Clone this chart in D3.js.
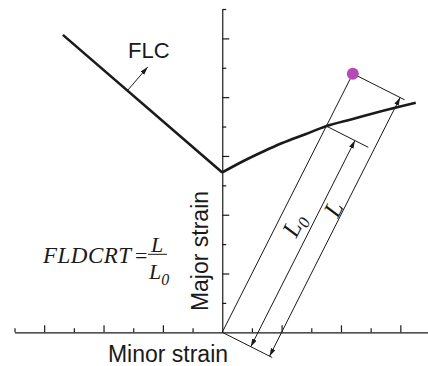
<!DOCTYPE html>
<html>
<head>
<meta charset="utf-8">
<script src="https://cdn.jsdelivr.net/npm/d3@7"></script>
<style>
  html, body { margin: 0; padding: 0; background: #fff; }
  svg { display: block; }
</style>
</head>
<body>
<svg id="chart" width="428" height="366"></svg>
<script>
// Forming limit curve (FLC), left and right branches, in strain units
const flcLeftMinor = [-0.537, 0];
const flcLeftMajor = [1.012, 0.544];
const flcRightMinor = [0, 0.07, 0.14, 0.2, 0.28, 0.352, 0.44, 0.52, 0.652];
const flcRightMajor = [0.544, 0.582, 0.616, 0.643, 0.674, 0.702, 0.726, 0.748, 0.781];

// Strain state of the element being assessed
const pointMinor = [0.44];
const pointMajor = [0.88];

// Axis ticks
const xMajorTicks = [-0.6, -0.4, -0.2, 0.2, 0.4, 0.6];
const xMinorTicks = [-0.7, -0.5, -0.3, -0.1, 0.1, 0.3, 0.5];
const yMajorTicks = [0.2, 0.4, 0.6, 0.8, 1.0];
const yMinorTicks = [0.1, 0.3, 0.5, 0.7, 0.9, 1.1];

const xLabel = "Minor strain";
const yLabel = "Major strain";
const flcLabel = "FLC";

const svg = d3.select("#chart");
const x = d3.scaleLinear().domain([-0.7, 0.7]).range([14.5, 430]);
const y = d3.scaleLinear().domain([0, 1.1]).range([332.3, 9]);

const ink = "#1a1a1a";

// arrowhead marker
svg.append("defs").append("marker")
  .attr("id", "arr")
  .attr("viewBox", "0 -3 8 6")
  .attr("refX", 8).attr("refY", 0)
  .attr("markerWidth", 8).attr("markerHeight", 6)
  .attr("markerUnits", "userSpaceOnUse")
  .attr("orient", "auto-start-reverse")
  .append("path").attr("d", "M0,-2.4L8,0L0,2.4Z").attr("fill", ink);

// axes: ticks point inward, long ticks on even tenths
function xAxis(vals, len) {
  return d3.axisBottom(x).tickValues(vals).tickSize(-len).tickSizeOuter(0).tickFormat("");
}
function yAxis(vals, len) {
  return d3.axisLeft(y).tickValues(vals).tickSize(-len).tickSizeOuter(0).tickFormat("");
}
const gx1 = svg.append("g").attr("transform", `translate(0,${y(0)})`).call(xAxis(xMajorTicks, 7));
const gx2 = svg.append("g").attr("transform", `translate(0,${y(0)})`).call(xAxis(xMinorTicks, 4));
const gy1 = svg.append("g").attr("transform", `translate(${x(0)},0)`).call(yAxis(yMajorTicks, 7));
const gy2 = svg.append("g").attr("transform", `translate(${x(0)},0)`).call(yAxis(yMinorTicks, 4));
[gx1, gx2, gy1, gy2].forEach(g => {
  g.selectAll("path, line").attr("stroke", ink).attr("stroke-width", 1.2);
});
gx2.select(".domain").remove();
gy2.select(".domain").remove();

// FLC curve
const line = d3.line().x(d => x(d[0])).y(d => y(d[1]));
const leftPts = flcLeftMinor.map((v, i) => [v, flcLeftMajor[i]]);
const rightPts = flcRightMinor.map((v, i) => [v, flcRightMajor[i]]);
svg.append("path").attr("d", line(leftPts))
  .attr("fill", "none").attr("stroke", ink).attr("stroke-width", 2.6);
svg.append("path").attr("d", line.curve(d3.curveMonotoneX)(rightPts))
  .attr("fill", "none").attr("stroke", ink).attr("stroke-width", 2.6);
line.curve(d3.curveLinear);

// where the proportional strain path crosses the FLC
const ratio = pointMajor[0] / pointMinor[0];
let cross = rightPts[rightPts.length - 1];
for (let i = 0; i < rightPts.length - 1; i++) {
  const a = rightPts[i], b = rightPts[i + 1];
  const fa = a[1] - ratio * a[0], fb = b[1] - ratio * b[0];
  if (fa >= 0 && fb < 0) {
    const t = fa / (fa - fb);
    cross = [a[0] + t * (b[0] - a[0]), a[1] + t * (b[1] - a[1])];
    break;
  }
}

// construction geometry in screen space
const O = [x(0), y(0)];
const P = [x(pointMinor[0]), y(pointMajor[0])];
const I = [x(cross[0]), y(cross[1])];
const len = Math.hypot(P[0] - O[0], P[1] - O[1]);
const u = [(P[0] - O[0]) / len, (P[1] - O[1]) / len];
const n = [-u[1], u[0]];
const off = (p, d) => [p[0] + n[0] * d, p[1] + n[1] * d];
const seg = (a, b) => svg.append("line")
  .attr("x1", a[0]).attr("y1", a[1]).attr("x2", b[0]).attr("y2", b[1])
  .attr("stroke", ink).attr("stroke-width", 1);

seg(O, P);
seg(O, off(O, 56));
seg(I, off(I, 47));
seg(P, off(P, 58));
seg(off(O, 32), off(I, 32)).attr("marker-start", "url(#arr)").attr("marker-end", "url(#arr)");
seg(off(O, 53), off(P, 53)).attr("marker-start", "url(#arr)").attr("marker-end", "url(#arr)");

// length labels along the dimension lines
const ang = Math.atan2(u[1], u[0]) * 180 / Math.PI;
function dimLabel(along, perp, main, sub) {
  const p = [O[0] + u[0] * along + n[0] * perp, O[1] + u[1] * along + n[1] * perp];
  const t = svg.append("text")
    .attr("transform", `translate(${p[0]},${p[1]}) rotate(${ang})`)
    .attr("text-anchor", "middle")
    .attr("font-family", "'Liberation Serif', 'Times New Roman', serif")
    .attr("font-style", "italic").attr("font-size", 25).attr("fill", ink);
  t.append("tspan").text(main);
  if (sub) t.append("tspan").attr("font-size", 17).attr("dy", 5).text(sub);
}
dimLabel(128, 24, "L", "0");
dimLabel(160, 52, "L", null);

// strain point
svg.append("circle").attr("cx", P[0]).attr("cy", P[1]).attr("r", 6)
  .attr("fill", "#b54cb5");

// FLC label with pointer normal to the left branch
const a0 = [x(flcLeftMinor[0]), y(flcLeftMajor[0])];
const a1 = [x(flcLeftMinor[1]), y(flcLeftMajor[1])];
const ll = Math.hypot(a1[0] - a0[0], a1[1] - a0[1]);
const lu = [(a1[0] - a0[0]) / ll, (a1[1] - a0[1]) / ll];
const ln = [lu[1], -lu[0]];
const base = [a0[0] + lu[0] * ll * 0.405, a0[1] + lu[1] * ll * 0.405];
svg.append("line")
  .attr("x1", base[0]).attr("y1", base[1])
  .attr("x2", base[0] + ln[0] * 31).attr("y2", base[1] + ln[1] * 31)
  .attr("stroke", ink).attr("stroke-width", 1).attr("marker-end", "url(#arr)");
svg.append("text").attr("x", 128).attr("y", 58.3)
  .attr("font-family", "'Liberation Sans', Arial, sans-serif")
  .attr("font-size", 22).attr("fill", ink).text(flcLabel);

// axis titles
svg.append("text").attr("x", 168).attr("y", 361.5).attr("text-anchor", "middle")
  .attr("font-family", "'Liberation Sans', Arial, sans-serif")
  .attr("font-size", 23).attr("fill", ink).text(xLabel);
svg.append("text").attr("transform", "translate(208,251) rotate(-90)").attr("text-anchor", "middle")
  .attr("font-family", "'Liberation Sans', Arial, sans-serif")
  .attr("font-size", 23).attr("fill", ink).text(yLabel);

// criterion formula
const serif = "'Liberation Serif', 'Times New Roman', serif";
svg.append("text").attr("x", 43).attr("y", 263.3)
  .attr("font-family", serif).attr("font-style", "italic").attr("font-size", 23)
  .attr("letter-spacing", 0.5)
  .attr("fill", ink).text("FLDCRT");
svg.append("text").attr("x", 147.5).attr("y", 263.3).attr("text-anchor", "end")
  .attr("font-family", serif).attr("font-size", 22)
  .attr("fill", ink).text("=");
svg.append("line").attr("x1", 148).attr("x2", 167).attr("y1", 254.3).attr("y2", 254.3)
  .attr("stroke", ink).attr("stroke-width", 1);
svg.append("text").attr("x", 151).attr("y", 252.2)
  .attr("font-family", serif).attr("font-style", "italic").attr("font-size", 22)
  .attr("fill", ink).text("L");
const den = svg.append("text").attr("x", 149).attr("y", 279.3)
  .attr("font-family", serif).attr("font-style", "italic").attr("font-size", 22)
  .attr("fill", ink);
den.append("tspan").text("L");
den.append("tspan").attr("font-size", 16).attr("dy", 6).text("0");
</script>
</body>
</html>
